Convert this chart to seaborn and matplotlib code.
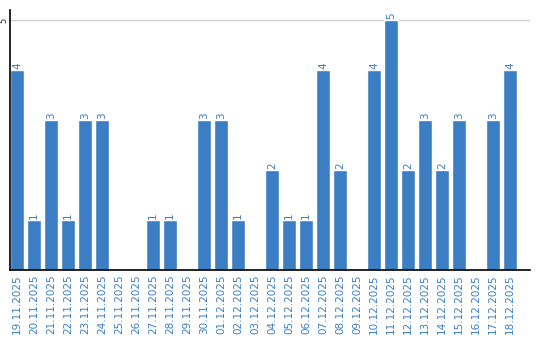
import matplotlib
matplotlib.use("Agg")
import matplotlib.pyplot as plt
import seaborn as sns
import pandas as pd

dates = ["19.11.2025", "20.11.2025", "21.11.2025", "22.11.2025", "23.11.2025",
         "24.11.2025", "25.11.2025", "26.11.2025", "27.11.2025", "28.11.2025",
         "29.11.2025", "30.11.2025", "01.12.2025", "02.12.2025", "03.12.2025",
         "04.12.2025", "05.12.2025", "06.12.2025", "07.12.2025", "08.12.2025",
         "09.12.2025", "10.12.2025", "11.12.2025", "12.12.2025", "13.12.2025",
         "14.12.2025", "15.12.2025", "16.12.2025", "17.12.2025", "18.12.2025"]
counts = [4, 1, 3, 1, 3, 3, 0, 0, 1, 1, 0, 3, 3, 1, 0,
          2, 1, 1, 4, 2, 0, 4, 5, 2, 3, 2, 3, 0, 3, 4]
y_ticks = [5]

BLUE = "#3b7ec3"

sns.set_style("white")
plt.rcParams['font.family'] = ['DejaVu Sans']

df = pd.DataFrame({"date": dates, "count": counts})

fig = plt.figure(figsize=(5.4, 3.4), dpi=100)
ax = fig.add_axes([10/540, 70/340, 520/540, 260/340])
sns.barplot(data=df, x="date", y="count", color=BLUE, saturation=1,
            width=0.82, ax=ax, order=dates)

ax.set_xlim(-0.41, 30.17)
ax.set_ylim(0, 5.2)
ax.set_yticks(y_ticks)
ax.set_yticklabels([str(t) for t in y_ticks], rotation=90, va="center",
                   fontsize=6, color="#222222")
ax.yaxis.grid(True, color="#cccccc", linewidth=1)
ax.set_axisbelow(True)
ax.tick_params(axis="y", length=0, pad=1)
ax.tick_params(axis="x", length=0, pad=3, labelrotation=90, labelsize=7.5,
               labelcolor=BLUE)
ax.set_xlabel("")
ax.set_ylabel("")

for s in ["top", "right"]:
    ax.spines[s].set_visible(False)
for s in ["left", "bottom"]:
    ax.spines[s].set_visible(True)
    ax.spines[s].set_color("black")
    ax.spines[s].set_linewidth(1.2)

labels = [str(c) if c > 0 else "" for c in counts]
ax.bar_label(ax.containers[0], labels=labels, rotation=90, padding=1,
             fontsize=7.5, color=BLUE)

fig.savefig("out.png", dpi=100)
